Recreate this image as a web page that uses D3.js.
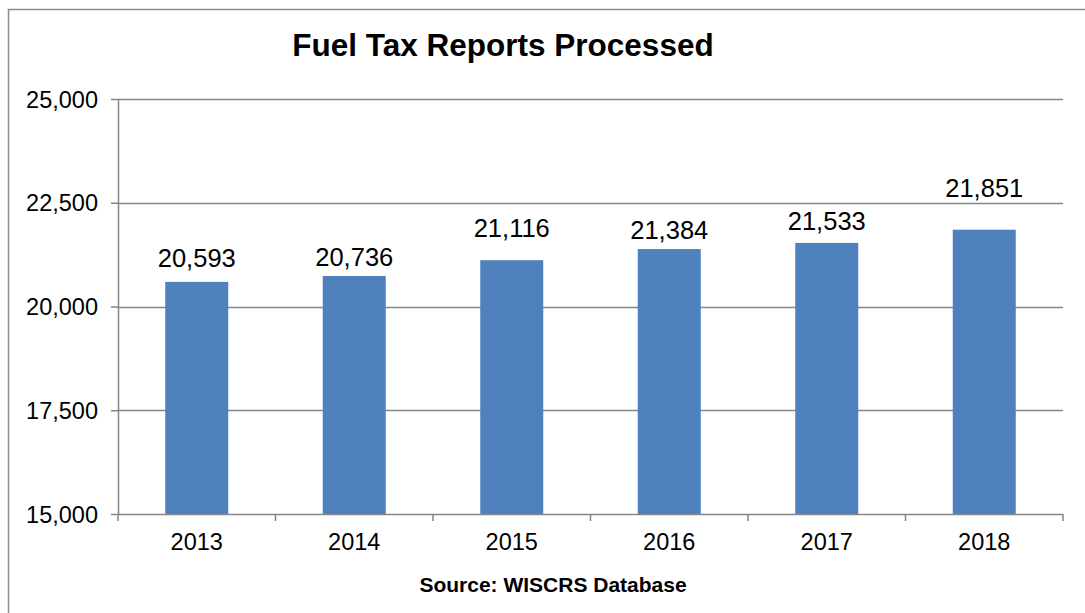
<!DOCTYPE html>
<html>
<head>
<meta charset="utf-8">
<script src="https://cdn.jsdelivr.net/npm/d3@7"></script>
<style>
  body { margin: 0; background: #fff; }
  svg text { font-family: "Liberation Sans", Arial, sans-serif; fill: #000; }
</style>
</head>
<body>
<div id="chart"></div>
<script>
// data
const years = ['2013', '2014', '2015', '2016', '2017', '2018'];
const reports = [20593, 20736, 21116, 21384, 21533, 21851];
const yTicks = [15000, 17500, 20000, 22500, 25000];

const W = 1085, H = 613;
const margin = { top: 99, right: 22, bottom: 99, left: 118 };
const width = W - margin.left - margin.right,
  height = H - margin.top - margin.bottom;

// the labels in the original were nudged by hand, so each sits a different distance above its bar
const labelLift = [15, 10, 23.5, 10, 13, 33];

const svg = d3.select('#chart')
  .append('svg')
  .attr('width', W)
  .attr('height', H);

// outer chart border (runs off the right and bottom edges)
svg.append('rect')
  .attr('x', 8.5)
  .attr('y', 9.5)
  .attr('width', W + 20)
  .attr('height', H + 20)
  .style('fill', 'none')
  .style('stroke', '#8c8c8c')
  .style('stroke-width', 1.5);

const g = svg.append('g')
  .attr('transform', 'translate(' + margin.left + ',' + margin.top + ')');

const x = d3.scaleBand()
  .domain(years)
  .range([0, width])
  .paddingInner(0.6)
  .paddingOuter(0.3);

const y = d3.scaleLinear()
  .domain([15000, 25000])
  .range([height, 0]);

// gridlines
g.append('g')
  .selectAll('line')
  .data(yTicks.filter(d => d > 15000))
  .enter()
  .append('line')
  .attr('x1', 0)
  .attr('x2', width)
  .attr('y1', d => Math.round(y(d)) + 0.5)
  .attr('y2', d => Math.round(y(d)) + 0.5)
  .style('stroke', '#868686')
  .style('stroke-width', 1.5);

// bars
g.append('g')
  .selectAll('rect')
  .data(reports)
  .enter()
  .append('rect')
  .attr('x', (d, i) => x(years[i]))
  .attr('y', d => y(d))
  .attr('width', x.bandwidth())
  .attr('height', d => height - y(d))
  .style('fill', '#4f81bd');

// value labels
g.append('g')
  .selectAll('text')
  .data(reports)
  .enter()
  .append('text')
  .attr('x', (d, i) => x(years[i]) + x.bandwidth() / 2)
  .attr('y', (d, i) => y(d) - labelLift[i])
  .attr('text-anchor', 'middle')
  .style('font-size', '25.5px')
  .text(d => d3.format(',')(d));

// y axis
const yAxis = g.append('g')
  .call(d3.axisLeft(y).tickValues(yTicks).tickFormat(d3.format(',')).tickSize(7).tickPadding(13));
yAxis.selectAll('text').style('font-size', '23.5px').attr('dy', '0.34em');

// x axis with ticks on category boundaries
const xAxis = g.append('g')
  .attr('transform', 'translate(0,' + height + ')')
  .call(d3.axisBottom(x).tickSize(0).tickPadding(19));
xAxis.selectAll('text').style('font-size', '23.5px');

const step = width / years.length;
g.append('g')
  .attr('transform', 'translate(0,' + height + ')')
  .selectAll('line')
  .data(d3.range(years.length + 1))
  .enter()
  .append('line')
  .attr('x1', d => d * step)
  .attr('x2', d => d * step)
  .attr('y1', 0)
  .attr('y2', 7)
  .style('stroke', '#868686')
  .style('stroke-width', 1.5);

[yAxis, xAxis].forEach(a => {
  a.select('.domain').style('stroke', '#868686').style('stroke-width', 1.5);
  a.selectAll('.tick line').style('stroke', '#868686').style('stroke-width', 1.5);
});
xAxis.select('.domain').attr('d', 'M0,0.5H' + width);
yAxis.select('.domain').attr('d', 'M0.5,0V' + height);

// title
svg.append('text')
  .attr('x', 503)
  .attr('y', 56)
  .attr('text-anchor', 'middle')
  .style('font-size', '31.5px')
  .style('font-weight', 'bold')
  .text('Fuel Tax Reports Processed');

// source note
svg.append('text')
  .attr('x', 553)
  .attr('y', 592)
  .attr('text-anchor', 'middle')
  .style('font-size', '21px')
  .style('font-weight', 'bold')
  .text('Source: WISCRS Database');
</script>
</body>
</html>
